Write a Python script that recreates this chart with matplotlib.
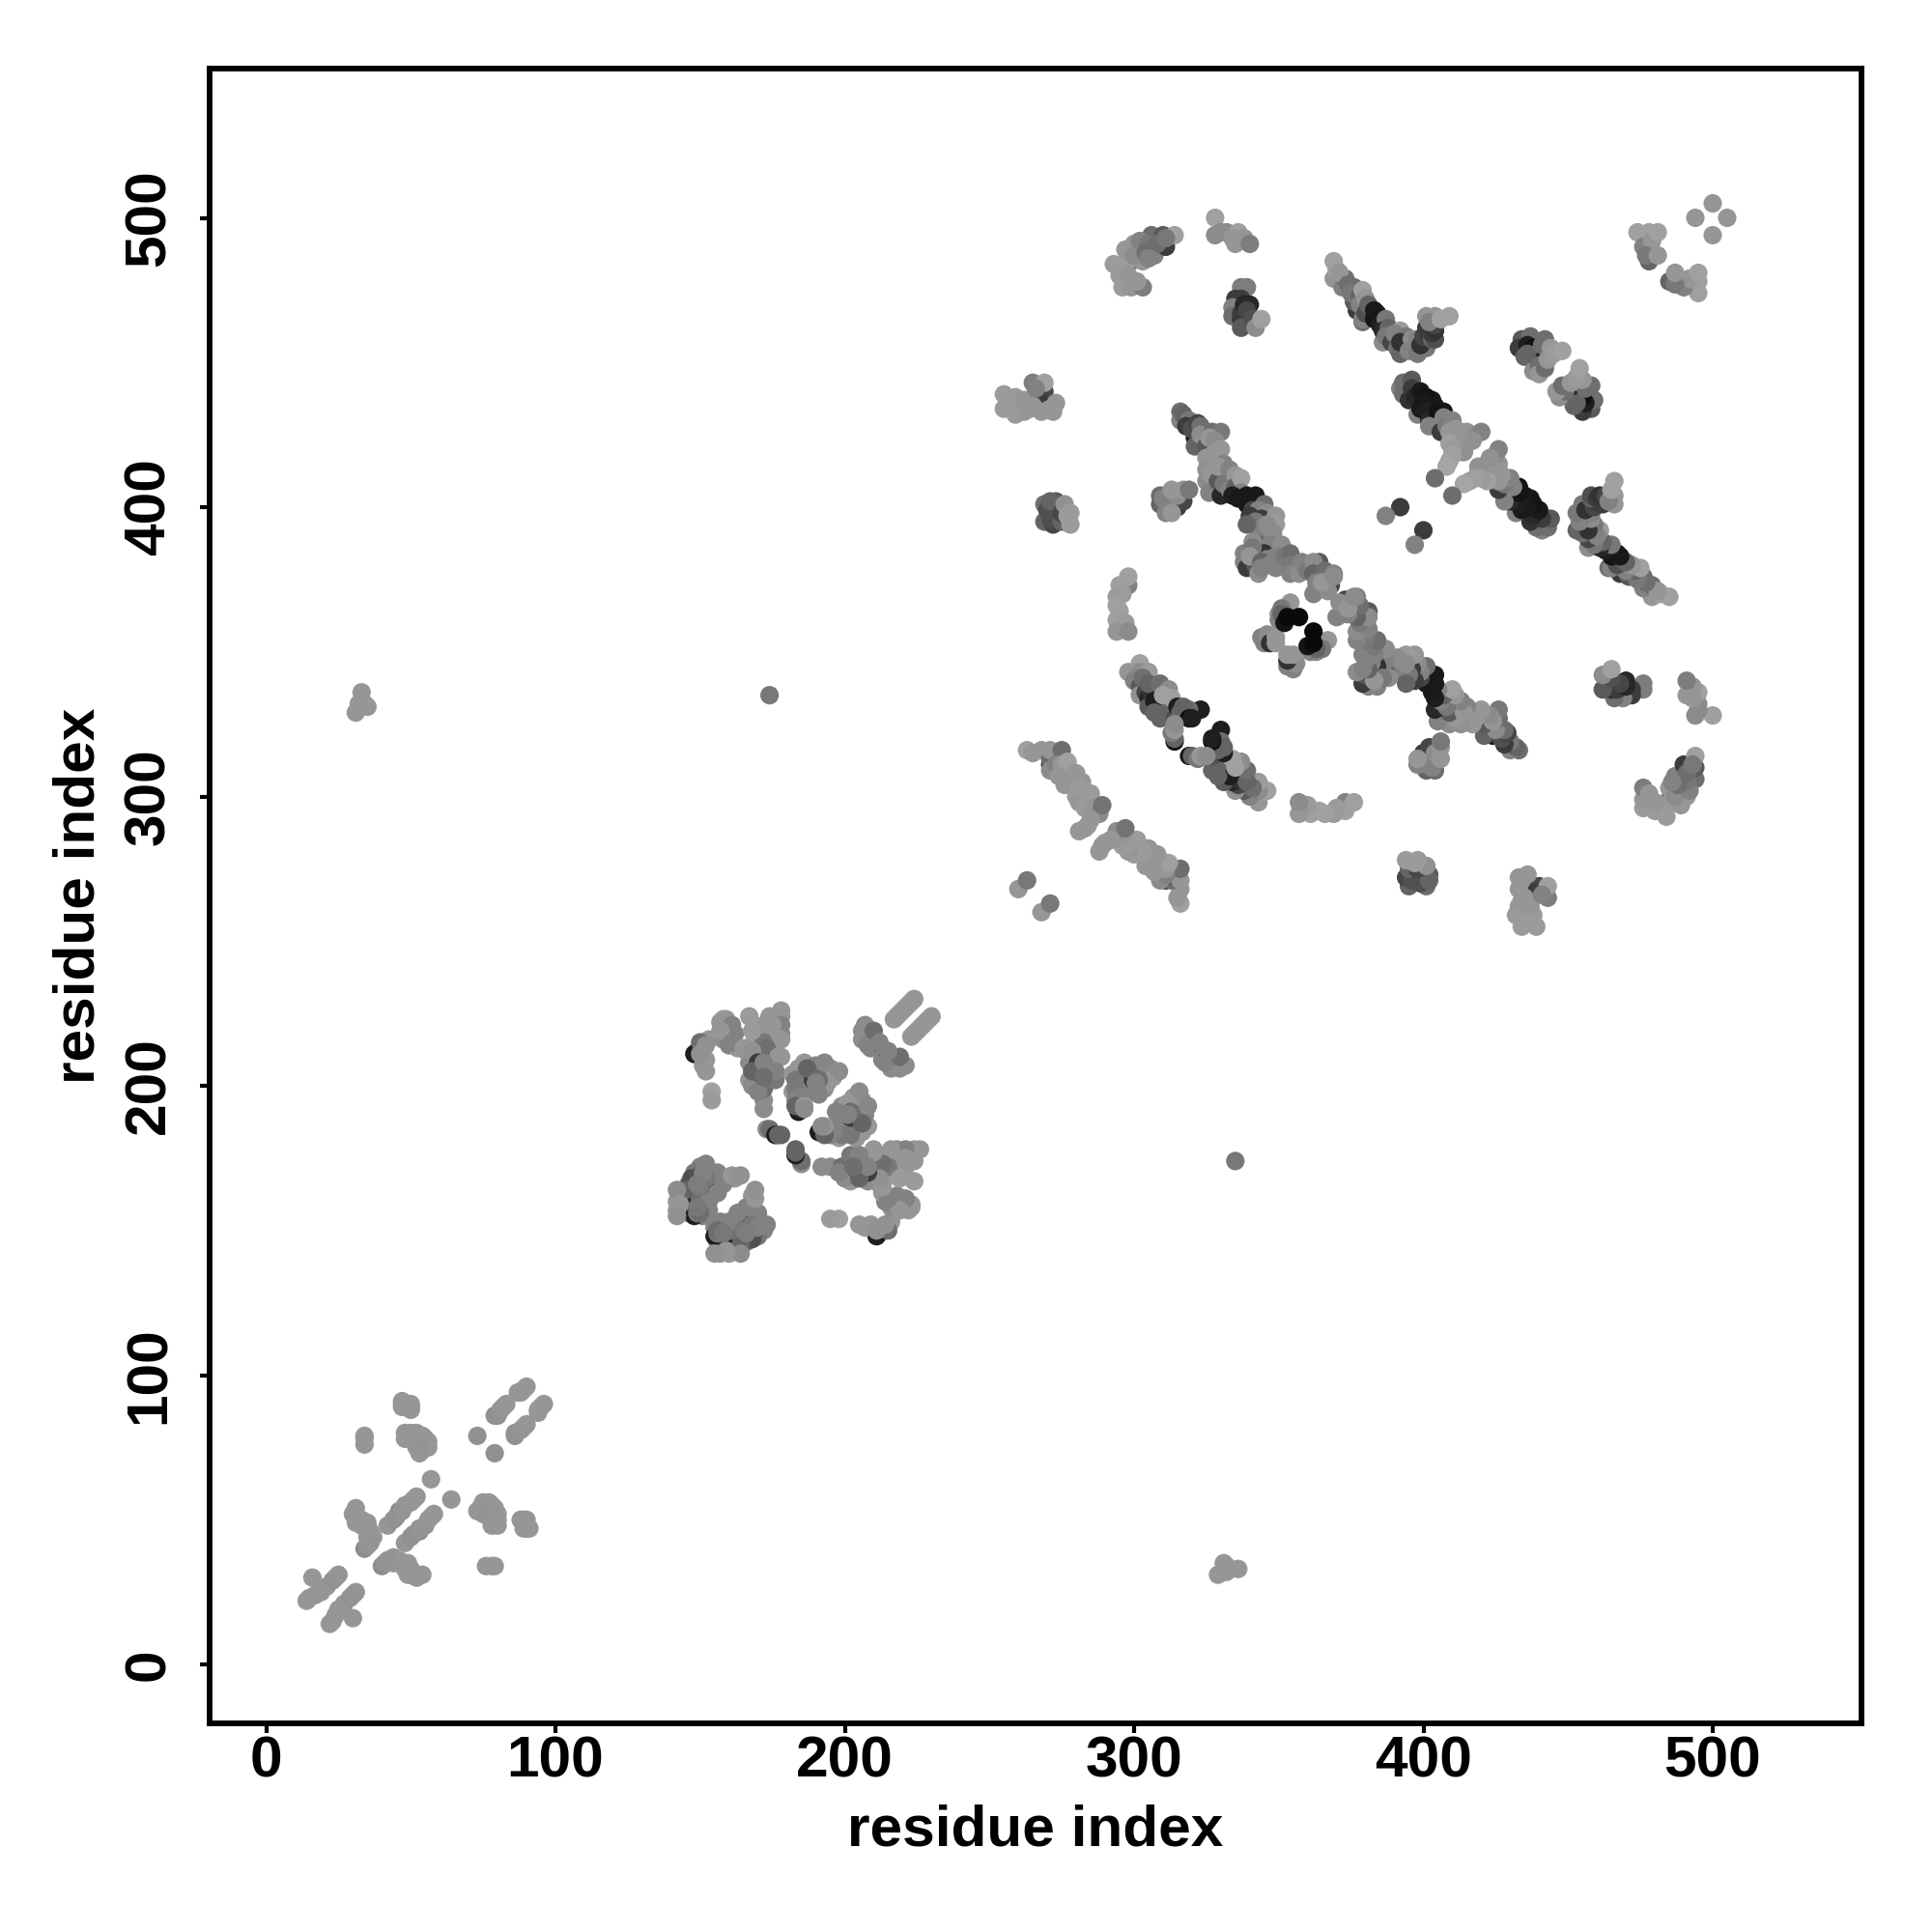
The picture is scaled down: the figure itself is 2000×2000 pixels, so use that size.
import matplotlib
matplotlib.use("Agg")
import matplotlib.pyplot as plt

# contacts (residue i, residue j, grey level 0-255); the map is symmetric, i < j listed
domain_a = [(16,30,150),(14,22,150),(17,24,150),(21,27,150),(23,29,145),(25,31,150),(15,23,150),(19,25,150),(24,30,148),
 (31,54,150),(31,49,150),(35,49,150),(35,44,150),(34,40,140),(37,44,150),(42,48,150),
 (46,53,140),(48,55,150),(52,58,150),(57,64,150),(47,90,150),(50,89,150),(34,79,150),
 (34,76,150),(49,79,150),(54,79,148),(55,78,150),(56,75,150),(53,73,150),(73,79,145),
 (79,86,145),(82,89,150),(87,94,150),(90,96,150),
 (47,91,150),(50,90,150),(47,89,150),(50,88,150),(34,78,150),(48,80,150),(50,80,150),(52,80,150),(48,78,150),(51,77,150),
 (54,77,148),(54,74,150),(52,75,150),(56,77,150),(53,76,148),(30,52,150),(33,48,150),(36,46,150),(36,42,148),(35,41,148),(33,50,150),
 (44,50,145),(45,51,145),(47,53,148),(50,56,150),(51,57,150),(80,86,145),(81,88,148),(83,90,150),(88,94,150),(89,95,150)]
domain_b_under = [(149,212,120),(153,216,150),(157,222,150),(159,223,150),(160,218,130),(158,216,140),(162,218,130),(160,214,130),(163,213,150),
 (166,212,150),(169,216,155),(172,221,150),(176,223,150),(178,224,150),(178,218,140),(176,217,130),(174,216,150),(172,215,120),(175,212,150),
 (178,210,150),(174,208,140),(170,206,130),(167,208,140),(167,202,150),(172,201,130),(176,205,140),(170,200,130),(173,203,140),(168,200,140),(172,195,140),
 (182,204,150),(185,204,130),(186,208,150),(188,204,140),(190,207,130),(191,205,120),(195,206,140),(196,203,150),(193,199,140),(191,200,130),
 (186,198,140),(182,198,150),(183,195,130),(186,200,140),(183,199,120),(189,198,130),
 (150,172,130),(148,170,120),(146,166,130),(150,166,120),(152,167,110),(154,167,130),(157,168,140),(159,168,140),(162,168,150),(144,162,140),(148,163,120),
 (151,163,120),(153,162,130),(156,163,140),(145,158,140),(142,160,150),(142,157,150),(146,156,140),(148,158,110),(150,158,130),(151,155,130),(153,157,130),
 (218,224,150),(220,226,150),(222,228,150),(223,229,150),(207,217,140),(206,216,140),(207,221,140),(209,213,130)]
domain_b_left = [(148,211,30),(150,215,110),(152,214,145),(152,209,150),(152,205,150),(154,198,160),(154,195,155),
 (158,223,150),(161,221,130),(157,219,150),(161,215,130),(167,224,155),(174,224,150),(178,226,150),
 (178,221,130),(178,216,150),(168,219,155),(165,213,150),(173,213,110),(168,212,145),(170,208,60),
 (174,205,40),(171,204,70),(168,205,100),(177,210,150),(172,199,110),(176,202,120),(170,198,130),(172,192,140),
 (175,221,150),(151,207,150)]
domain_b_centre = [(184,206,150),(183,202,120),(189,202,60),(191,202,80),(187,206,100),(193,208,135),(198,205,140),
 (194,201,150),(191,197,130),(184,196,130),(184,191,30),(183,193,100),(186,193,150),
 (173,185,140),(174,185,110),(176,183,30),(177,183,100)]
domain_b_low = [(148,155,30),(147,159,40),(155,164,50),(150,169,60),(148,165,50),(146,165,60),(147,168,80),(153,169,90),
 (145,164,100),(150,161,110),(152,173,130),(142,164,140),(156,170,130),(158,166,130),(149,156,120),(153,160,130),
 (143,159,150),(142,155,145),(161,169,150),(164,169,145)]
domain_b_tail = [(206,219,140),(210,215,70),(208,214,130),(210,219,110),(217,223,150),(219,225,150),(221,227,150),(224,230,150)]
domain_b_over = [(150,211,145),(172,208,130),(176,205,130),(172,203,110),(152,168,120),(150,165,120),(156,163,130),(150,156,110),
 (149,158,120),(191,202,110),(190,201,130),(186,192,140),(178,183,100),(212,215,130),(151,170,130),(149,166,125)]
cluster_1 = [(264,437,100),(269,440,70),(268,436,60),(265,443,125),(255,439,155),(255,434,155),(259,432,155),(259,438,155),
 (262,433,150),(265,435,150),(269,443,160),(268,433,150),(273,436,150),(272,433,150),
 (257,436,155),(260,435,155),(262,437,150),(264,434,150),(266,441,130),(271,434,150)]
cluster_2 = [(269,401,110),(269,395,100),(272,394,70),(272,398,40),(273,402,90),(271,396,80),(275,395,100),(270,399,80),(271,402,100),(275,398,70),
 (276,401,145),(277,397,155),(278,394,155),(278,398,155)]
cluster_3 = [(293,484,155),(296,476,155),(295,480,155),(299,476,150),(303,476,125),(300,491,150),(299,485,125),(302,487,70),
 (303,490,100),(303,485,150),(307,487,130),(306,494,110),(311,490,60),(310,494,90),(314,494,160),
 (296,480,155),(297,484,155),(298,480,150),(301,478,150),(297,489,150),(300,487,140),(302,492,130),(305,491,120),(304,488,110),(308,491,110),(311,493,120),(305,486,130)]
cluster_4 = [(328,500,160),(328,494,140),(330,495,140),(332,495,140),(336,495,160),(334,493,150),(338,493,150),(335,491,150),(340,491,125)]
cluster_5 = [(337,476,125),(339,476,125),(337,472,60),(335,472,60),(334,469,130),(334,466,110),(337,465,50),(337,467,60),(338,470,40),(340,470,40),
 (339,468,70),(337,462,90),(341,465,80),(342,462,140),(344,465,160)]
strip_6 = [(369,479,150),(369,485,160),(370,482,160),(372,476,130),(373,479,110),(371,481,150),(376,476,110),(374,477,110),(377,468,60),(376,471,90),(375,474,120),(379,464,110),(379,465,130),
 (378,473,100),(379,475,160),(378,470,130),(380,472,150),(382,468,150),(380,467,80),(381,470,100),(384,467,30),(383,465,20),(383,468,25),(385,463,30),(387,465,120),(386,457,140),(386,461,40),(388,462,100),(387,459,120),(389,457,70),(392,461,155),
 (390,460,130),(391,455,110),(392,453,100),(394,459,120),(394,456,120),(392,457,50),(396,458,140),(395,454,130),(397,455,130),(398,458,130),(398,453,120),(401,455,120),(399,456,50),(400,459,70),(402,459,60),(403,458,100),(404,458,80),(401,462,60),(403,460,60),(404,461,50),(404,463,70),
 (401,466,150),(404,466,150),(402,464,130),(406,465,160),(409,466,160)]
cluster_7 = [(434,458,90),(433,455,60),(437,459,110),(442,458,110),(436,456,30),(438,455,15),(440,453,40),(438,451,90),(436,453,100),(435,452,100),(442,452,40),(438,447,140),(440,449,110),(440,446,150),
 (442,448,110),(441,456,110),(443,451,150),(444,455,150),(445,453,155),(448,454,160)]
strip_8 = [(392,441,130),(393,443,110),(393,439,110),(396,444,90),(395,437,50),(396,441,60),(397,438,40),(399,440,25),(403,437,25),(401,438,20),(400,436,25),(404,435,25),(398,432,130),(399,434,25),(401,433,30),(402,430,40),(405,430,50),(407,433,20),(405,433,20),
 (402,428,130),(406,426,60),(407,431,130),(408,428,120),(410,430,130),(409,426,150),(411,427,150),(413,426,150),(415,426,150),(418,425,140),(420,426,130),(413,424,150),(411,424,150),(413,421,140),(415,422,150),(417,423,145),
 (409,422,160),(412,419,150),(414,419,145),(410,420,155),(410,418,160),(409,416,160),(408,414,165)]
isolated = [(404,410,110),(392,400,60),(387,397,130),(260,268,150),(263,271,120),(494,500,150),(500,505,150),
 (33,336,150),(32,332,150),(34,332,150),(31,329,150),(35,331,150),(174,335,120)]
cluster_10 = [(474,495,160),(478,495,160),(476,490,130),(479,492,150),(478,485,100),(477,487,120),(481,487,150),(481,495,160)]
strip_11 = [(298,343,150),(302,346,160),(302,343,140),(305,343,155),(300,340,130),(302,338,90),(303,341,110),(302,335,145),(304,336,70),(305,334,40),(306,336,50),(305,339,100),(305,331,90),
 (309,339,110),(307,333,30),(309,331,30),(313,330,25),(311,332,30),(307,329,100),(311,329,100),(312,337,140),(310,335,160),(313,334,160),(309,327,100),(314,327,80),(323,330,30),(315,331,30),(319,330,110),(316,329,100),(317,331,100),(319,327,15),(320,327,30),
 (314,319,20),(314,320,100),(313,322,120),(314,323,150),(314,325,140)]
arc_12 = [(298,373,130),(298,376,160),(295,373,160),(296,370,155),(294,369,155),(294,366,160),(295,364,160),(294,361,160),(297,360,155),(294,357,150),(298,357,140)]
strip_13 = [(271,311,60),(263,316,160),(265,315,150),(268,316,150),(271,313,110),(272,314,100),(271,316,150),(275,316,110),(271,309,140),(273,311,130),(275,311,150),(278,309,150),(277,312,160),(274,307,150),(277,306,150),(276,304,150),(279,304,150),(280,308,150),
 (282,305,150),(281,303,155),(283,301,155),(285,301,155),(280,300,155),(281,298,150),(283,296,155),(284,298,155),(286,296,150),(288,294,140),(289,297,115),(285,292,150),(281,288,150),(283,289,150),(284,290,150)]
cluster_14 = [(309,404,110),(309,401,100),(313,403,50),(315,400,60),(317,402,70),(311,401,120),(310,403,130),(315,404,140),(311,398,130),(313,398,150),(313,406,150),(317,406,150),(319,406,120)]
strip_15 = [(316,433,110),(316,430,130),(317,432,100),(319,430,120),(321,424,30),(318,428,60),(320,427,80),(322,429,70),(321,421,100),(323,428,110),(323,425,140),(327,426,110),(330,426,120),(325,421,90),(326,424,150),(328,423,140),
 (330,420,150),(325,417,150),(327,418,150),(329,417,150),(331,415,130),(325,413,145),(325,409,140),(327,411,150),(326,405,130),(329,409,90),(329,414,150),(333,413,130),(330,404,40),(331,408,120),(333,406,130),(335,411,150),(335,407,100),(337,410,160),
 (337,405,130),(334,404,30),(336,403,25),(339,404,25),(342,404,25),(339,401,25),(341,399,70),(345,401,110),(343,399,130),(346,398,140),(340,397,60),(344,396,60),(342,395,120),(349,397,150),(349,394,155),(343,392,130),(346,394,140),(339,394,100),
 (348,391,140),(343,387,100),(341,388,140),(347,387,130),(351,387,140),(338,384,130),(338,381,130),(339,379,60),(345,384,50),(342,380,90),(341,386,120),(340,383,150),(343,377,140),(346,382,130),(344,381,100),(344,379,130),(347,380,130),(349,383,130),(349,379,130),
 (352,383,120),(354,384,110),(354,380,120),(354,377,130),(357,377,140),(358,381,130),(360,378,120),(364,381,90),(362,381,140),(362,377,100),(362,370,130),(363,374,130),(363,372,130),(368,373,70),(367,371,140),(366,378,110),(369,377,130),(365,374,150),(369,376,140)]
cluster_16 = [(344,355,130),(345,353,130),(346,356,140),(348,355,140),(347,353,50),(349,353,150),(349,355,150),(354,367,150),(350,363,140),(350,361,130),(351,365,120),(351,363,100),(352,360,20),(353,362,10),(357,362,10)]

groups = [domain_a, domain_b_under, domain_b_left, domain_b_centre, domain_b_low, domain_b_tail, domain_b_over, cluster_1, cluster_2,
          cluster_3, cluster_4, cluster_5, strip_6, cluster_7, strip_8, isolated, cluster_10, strip_11, arc_12, strip_13,
          cluster_14, strip_15, cluster_16]

tick_values = [0, 100, 200, 300, 400, 500]
axis_label = "residue index"

plt.rcParams["font.family"] = ["Liberation Sans", "DejaVu Sans"]
fig = plt.figure(figsize=(20, 20), dpi=100)
ax = fig.add_axes([217/2000, 1 - 1784/2000, (1927-217)/2000, (1784-71)/2000])

xs, ys, cs = [], [], []
for group in groups:
    for i, j, g in group:
        xs.append(i); ys.append(j); cs.append((g/255, g/255, g/255))
for group in groups:
    for i, j, g in group:
        xs.append(j); ys.append(i); cs.append((g/255, g/255, g/255))
ax.scatter(xs, ys, s=190, c=cs, linewidths=0, zorder=3)

ax.set_xlim((217-275.5)/2.995, (1927-275.5)/2.995)
ax.set_ylim((1723-1784)/2.995, (1723-71)/2.995)
ax.set_xticks(tick_values)
ax.set_yticks(tick_values)
ax.tick_params(axis="both", length=7, width=3, labelsize=43.5)
ax.tick_params(axis="x", pad=2)
ax.tick_params(axis="y", pad=18)
for lab in ax.get_xticklabels():
    lab.set_fontweight("bold")
for lab in ax.get_yticklabels():
    lab.set_fontweight("bold")
    lab.set_rotation(90)
    lab.set_va("center")
fig.text(1072/2000, 1 - 1895/2000, axis_label, fontsize=43.5, fontweight="bold", ha="center", va="center")
fig.text(82/2000, 1 - 927/2000, axis_label, fontsize=43.5, fontweight="bold", ha="center", va="center", rotation=90)
for sp in ax.spines.values():
    sp.set_linewidth(4.2)
fig.savefig("out.png", dpi=100, facecolor="white")
